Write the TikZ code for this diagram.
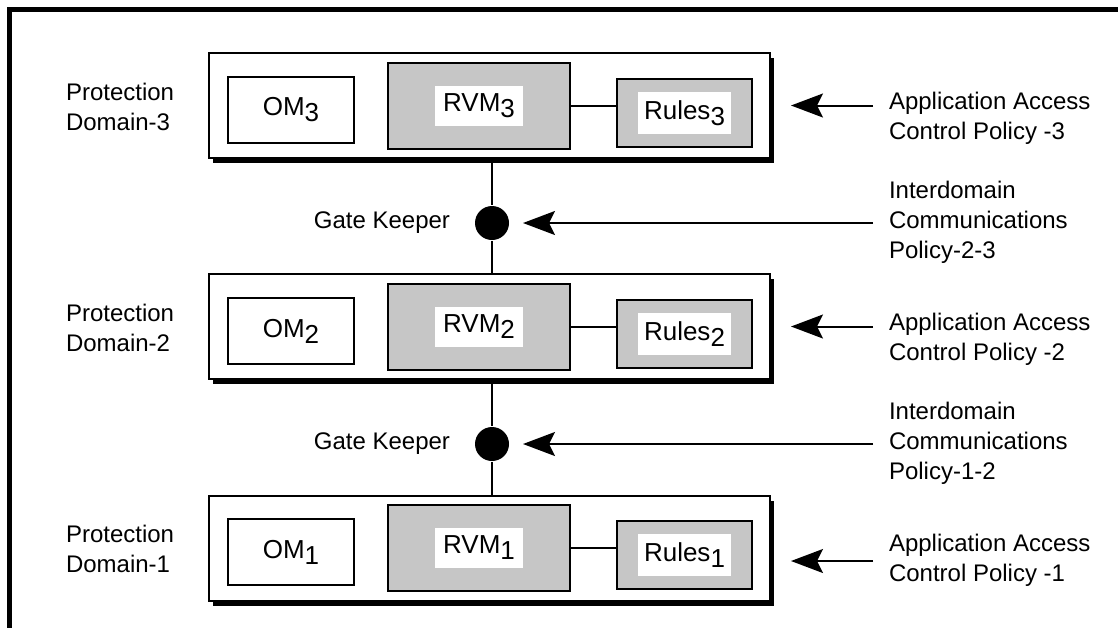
\documentclass[tikz,border=0pt]{standalone}
\usepackage{fontspec}
\setmainfont{Liberation Sans}
\usetikzlibrary{shapes,arrows.meta,shadows,positioning}

\tikzstyle{every node}=[font=\fontsize{12}{15}\selectfont]
\tikzstyle{every path}=[line width=1pt,line join=miter]
\tikzstyle{domainbox}=[draw,fill=white,minimum width=280.5pt,minimum height=52.5pt,inner sep=0pt,
  drop shadow={shadow xshift=2pt,shadow yshift=-2.5pt,fill=black,opacity=1}]
\tikzstyle{ombox}=[draw,fill=white,minimum width=63pt,minimum height=33pt,inner sep=0pt,
  font=\fontsize{13}{15}\selectfont]
\tikzstyle{rvmbox}=[draw,fill=gray!45,minimum width=91pt,minimum height=43pt,inner sep=0pt]
\tikzstyle{rulesbox}=[draw,fill=gray!45,minimum width=67.5pt,minimum height=34pt,inner sep=0pt]
\tikzstyle{tagbox}=[fill=white,inner sep=0pt,font=\fontsize{13}{15}\selectfont]
\tikzstyle{gatedot}=[circle,fill=black,minimum size=17pt,inner sep=0pt]
\tikzstyle{side text}=[anchor=west,align=left,inner sep=0pt]
\tikzstyle{policy text}=[anchor=west,align=left,inner xsep=7.5pt,inner ysep=0pt]
\tikzstyle{pointer}=[-{Stealth[length=16pt,width=12pt,inset=3pt]}]

% digit set at full size, only dropped below the baseline
\newcommand{\low}[1]{\raisebox{-3pt}{#1}}

\begin{document}
\begin{tikzpicture}[x=0.5pt,y=-0.5pt]
\useasboundingbox (0,0) rectangle (1118,628);

% frame
\draw [line width=2.5pt] (1118,9) -- (9.5,9) -- (9.5,628);

% domain 3
\node[domainbox] (pd3) at (489.5,105.5) {};
\node[ombox] (om3) at (291,110) {OM\low{3}};
\node[rvmbox] (rvm3) at (479,106) {};
\node[tagbox,minimum width=44pt,minimum height=20pt] (rvmtag3) at (rvm3) {RVM\low{3}};
\node[rulesbox] (rl3) at (684.5,113) {};
\node[tagbox,minimum width=46.5pt,minimum height=21pt] (rltag3) at (rl3) {Rules\low{3}};
\draw (rvm3.east) -- (rvm3.east -| rl3.west);

% domain 2
\node[domainbox] (pd2) at (489.5,326.5) {};
\node[ombox] (om2) at (291,331) {OM\low{2}};
\node[rvmbox] (rvm2) at (479,327) {};
\node[tagbox,minimum width=44pt,minimum height=20pt] (rvmtag2) at (rvm2) {RVM\low{2}};
\node[rulesbox] (rl2) at (684.5,334) {};
\node[tagbox,minimum width=46.5pt,minimum height=21pt] (rltag2) at (rl2) {Rules\low{2}};
\draw (rvm2.east) -- (rvm2.east -| rl2.west);

% domain 1
\node[domainbox] (pd1) at (489.5,548) {};
\node[ombox] (om1) at (291,552) {OM\low{1}};
\node[rvmbox] (rvm1) at (479,548) {};
\node[tagbox,minimum width=44pt,minimum height=20pt] (rvmtag1) at (rvm1) {RVM\low{1}};
\node[rulesbox] (rl1) at (684.5,555) {};
\node[tagbox,minimum width=46.5pt,minimum height=21pt] (rltag1) at (rl1) {Rules\low{1}};
\draw (rvm1.east) -- (rvm1.east -| rl1.west);

% gate keepers between the domains
\node[gatedot] (gk2) at (492,223) {};
\node[gatedot] (gk1) at (492,444) {};
\draw (pd3.south -| gk2) -- (gk2) -- (pd2.north -| gk2);
\draw (pd2.south -| gk1) -- (gk1) -- (pd1.north -| gk1);
\node[inner sep=0pt,left=11.5pt of gk2] (gl2) {Gate Keeper};
\node[inner sep=0pt,left=11.5pt of gk1] (gl1) {Gate Keeper};

% labels on the left
\node[side text] (pl3) at (65,107) {Protection\\Domain-3};
\node[side text] (pl2) at (65,328) {Protection\\Domain-2};
\node[side text] (pl1) at (65,549) {Protection\\Domain-1};

% policies on the right
\node[policy text] (ap3) at (873,118) {Application Access\\Control Policy -3};
\node[policy text] (ic2) at (873,222) {Interdomain\\Communications\\Policy-2-3};
\node[policy text] (ap2) at (873,339) {Application Access\\Control Policy -2};
\node[policy text] (ic1) at (873,443) {Interdomain\\Communications\\Policy-1-2};
\node[policy text] (ap1) at (873,560) {Application Access\\Control Policy -1};

\draw[pointer,shorten >=10pt] (ap3.west |- pd3.east) -- (pd3.east);
\draw[pointer,shorten >=10pt] (ap2.west |- pd2.east) -- (pd2.east);
\draw[pointer,shorten >=10pt] ([yshift=-6.5pt]ap1.west |- pd1.east) -- ([yshift=-6.5pt]pd1.east);
\draw[pointer,shorten >=6.5pt] (ic2.west |- gk2) -- (gk2.east);
\draw[pointer,shorten >=6.5pt] (ic1.west |- gk1) -- (gk1.east);
\end{tikzpicture}
\end{document}
